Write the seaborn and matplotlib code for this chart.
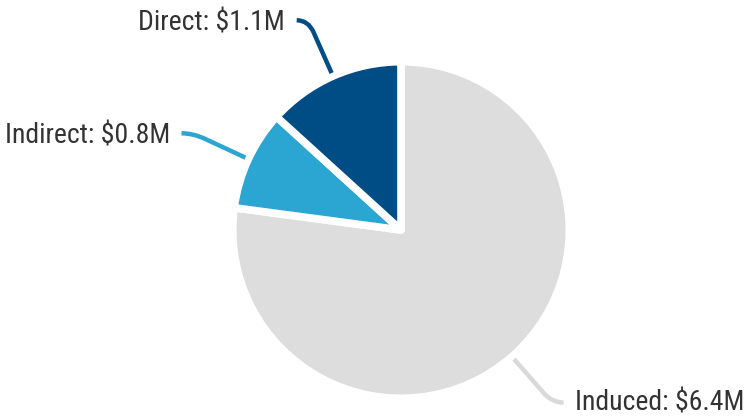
import numpy as np
import matplotlib
matplotlib.use("Agg")
import matplotlib.pyplot as plt
import seaborn as sns
from matplotlib.path import Path
from matplotlib.patches import PathPatch
from matplotlib import font_manager

categories = ["Induced", "Indirect", "Direct"]
values = [6.4, 0.8, 1.1]
labels = ["Induced: $6.4M", "Indirect: $0.8M", "Direct: $1.1M"]
colors = ["#dddddd", "#2ba6d3", "#004d85"]

sns.set_theme(style="white")
avail = {f.name for f in font_manager.fontManager.ttflist}
fam = [f for f in ["Roboto Condensed", "Roboto", "DejaVu Sans"] if f in avail]
plt.rcParams["font.family"] = fam

fig = plt.figure(figsize=(7.49, 4.17), dpi=100)
ax = fig.add_axes([0, 0, 1, 1])
R = 165.0
cx, cy = 401.0, 187.0

wedges, _ = ax.pie(values, colors=colors, startangle=90, counterclock=False,
                   radius=1.02,
                   wedgeprops=dict(edgecolor="white", linewidth=5.5, joinstyle="round"))
ax.set_xlim(-cx / R, (749 - cx) / R)
ax.set_ylim(-cy / R, (417 - cy) / R)
ax.set_aspect("auto")
ax.axis("off")

for w, lab, col in zip(wedges, labels, colors):
    mid = np.deg2rad((w.theta1 + w.theta2) / 2)
    dx, dy = np.cos(mid), np.sin(mid)
    p0 = (1.04 * dx, 1.04 * dy)
    pa = (1.31 * dx, 1.31 * dy)
    p1 = (1.39 * dx, 1.39 * dy)
    sgn = 1 if dx > 0 else -1
    p2 = (p1[0] + sgn * 0.07, p1[1])
    path = Path([p0, pa, p1, p2], [Path.MOVETO, Path.LINETO, Path.CURVE3, Path.CURVE3])
    lc = "#d9d9d9" if col == "#dddddd" else col
    ax.add_patch(PathPatch(path, fill=False, edgecolor=lc, linewidth=3.2, capstyle="butt"))
    yoff = 0.0 if dy < 0 else -0.015
    ax.text(p2[0] + sgn * 0.07, p2[1] + yoff, lab, ha="left" if sgn > 0 else "right",
            va="center", fontsize=20, color="#333333")

fig.savefig("out.png", dpi=100)
